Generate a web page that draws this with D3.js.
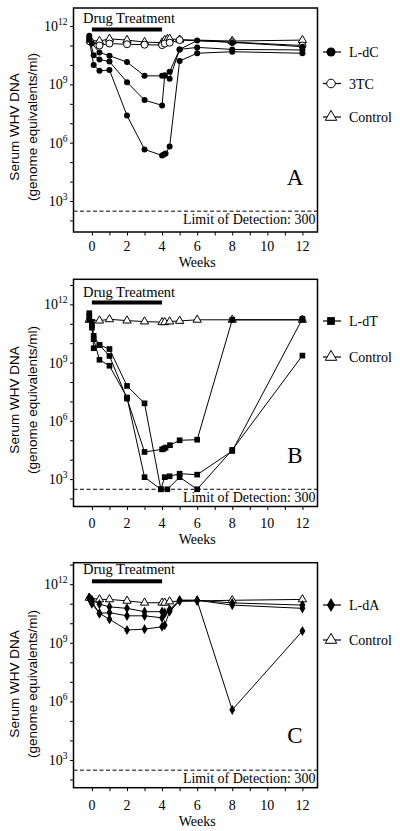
<!DOCTYPE html>
<html><head><meta charset="utf-8">
<script src="https://cdn.jsdelivr.net/npm/d3@7"></script>
<style>body{margin:0;background:#fff}svg{display:block}</style>
</head><body>
<script>
// ---------------- DATA ----------------
const weekTicks = [0,1,2,3,4,5,6,7,8,9,10,11,12];
const decadeTicks = [2,3,4,5,6,7,8,9,10,11,12,13];
const labelledDecades = [3,6,9,12];
const limitOfDetection = 300;
const limitText = "Limit of Detection: 300";
const treatmentWeeks = [0, 4];
const treatmentText = "Drug Treatment";
const xTitle = "Weeks";
const yTitle1 = "Serum WHV DNA";
const yTitle2 = "(genome equivalents/ml)";
const panelLetters = ["A","B","C"];

// Panel A: L-dC (filled circles), 3TC (open circles), Control (open triangles)
const ldc1 = [[-0.15,3.2e11],[0,1.26e11],[0.43,4.4e10],[1,3e10],[2,1.4e10],[3,2.75e9],[4,2.75e9],[4.15,2.9e9],[4.43,4.5e9],[5,6.3e10],[6,1.8e11],[8,1.45e11],[12,8.7e10]];
const ldc2 = [[-0.15,2.5e11],[0.1,3.2e10],[0.43,1.9e10],[1,1.5e10],[2,1.3e9],[3,1.55e8],[4,8.3e7],[4.15,2.9e9],[4.43,1.95e9],[5,6.3e10],[6,8e10],[8,6.3e10],[12,5.9e10]];
const ldc3 = [[-0.15,2e11],[0.1,1e10],[0.43,5e9],[1,5.5e9],[2,2.5e7],[3,4.5e5],[4,2.2e5],[4.1,2.5e5],[4.2,2.8e5],[4.43,6.3e5],[5,1.6e10],[6,4e10],[8,4.8e10],[12,4e10]];
const tc3 = [[-0.1,1.6e11],[0.43,1e11],[1,1.26e11],[2,1.16e11],[3,1.1e11],[4,1.05e11],[4.15,1.26e11],[4.43,1.4e11],[5,1.9e11],[8,1.5e11],[12,1e11]];
const controlA = [[-0.1,1.8e11],[0.43,1.7e11],[1,2.2e11],[2,1.9e11],[3,1.5e11],[4,1.4e11],[4.15,1.9e11],[4.3,2.1e11],[4.43,2.2e11],[5,2e11],[8,1.7e11],[12,1.9e11]];

// Panel B: L-dT (filled squares), Control
const ldt1 = [[-0.15,3.5e11],[0,1.26e11],[0.1,2.4e10],[0.43,8e9],[1,2.2e9],[2,1.4e7],[3,2.5e4],[4,3.4e4],[4.1,3.7e4],[4.2,4.2e4],[4.45,5.6e4],[5,1e5],[6,1.07e5],[8,1.6e11],[12,1.6e11]];
const ldt2 = [[-0.15,2.5e11],[0,8e10],[0.1,5.5e9],[0.43,8e9],[1,5e9],[2,6.3e7],[3,8e6],[3.93,300],[4.3,300],[5,1.26e3],[6,300],[8,3.2e4],[12,2.3e9]];
const ldt3 = [[-0.15,1.6e11],[0,6.3e10],[0.1,1.6e10],[0.43,1.4e9],[1,6.9e8],[2,1.6e7],[3,1.26e3],[3.93,300],[4.15,1.26e3],[4.43,1.4e3],[5,1.9e3],[6,1.7e3],[8,2.8e4],[12,1.8e11]];
const controlB = [[-0.15,1.6e11],[0.43,1.45e11],[1,1.7e11],[2,1.45e11],[3,1.3e11],[4,1.2e11],[4.15,1.2e11],[4.43,1.3e11],[5,1.4e11],[6,1.6e11],[8,1.6e11],[12,1.6e11]];

// Panel C: L-dA (filled diamonds), Control
const lda1 = [[-0.15,2e11],[0,1.6e11],[0.43,9.5e10],[1,6.9e10],[2,5.8e10],[3,3.9e10],[4,3.9e10],[4.15,3.5e10],[4.43,5e10],[5,1.5e11],[6,1.5e11],[8,1.1e11],[12,8.5e10]];
const lda2 = [[-0.15,2e11],[0,1.26e11],[0.43,3.2e10],[1,3.5e10],[2,2.4e10],[3,2.4e10],[4,1.9e10],[4.15,3.2e10],[4.43,4.7e10],[5,1.5e11],[6,1.5e11],[8,8.5e10],[12,5.8e10]];
const lda3 = [[-0.15,1.8e11],[0,1e11],[0.43,3.2e10],[1,1.6e10],[2,4.5e9],[3,5e9],[4,6.6e9],[4.15,8e9],[4.43,4e10],[5,1.4e11],[6,1.4e11],[8,3.7e5],[12,4e9]];
const controlC = [[-0.15,2e11],[0.43,1.66e11],[1,1.66e11],[2,1.4e11],[3,1.12e11],[4,1.12e11],[4.15,1.12e11],[4.43,1.3e11],[8,1.5e11],[12,1.66e11]];

const legendA = ["L-dC","3TC","Control"];
const legendB = ["L-dT","Control"];
const legendC = ["L-dA","Control"];

// ---------------- LAYOUT ----------------
const W = 400, H = 831;
const SERIF = "'Liberation Serif','Times New Roman',serif";
const SANS = "'Liberation Sans',Arial,sans-serif";
const xLeft = 73.5, xRight = 317.5;
const xDomain = [-1.05, 12.86];

const panels = [
  {top:8, bottom:232, expLo:1.405, expHi:12.93, letter:0,
   series:[{data:controlA,sym:"tri"},{data:tc3,sym:"ocirc"},{data:ldc1,sym:"fcirc"},{data:ldc2,sym:"fcirc"},{data:ldc3,sym:"fcirc"}],
   legend:[{t:legendA[0],sym:"fcirc",y:52},{t:legendA[1],sym:"ocirc",y:83.5},{t:legendA[2],sym:"tri",y:117}],
   txtY:23, barY:27.5, letterY:185, limY:224, tickLabY:251, titleY:267, yTitleC:127},
  {top:279.3, bottom:506.5, expLo:1.59, expHi:13.29, letter:1,
   series:[{data:controlB,sym:"tri"},{data:ldt1,sym:"sq"},{data:ldt2,sym:"sq"},{data:ldt3,sym:"sq"}],
   legend:[{t:legendB[0],sym:"sq",y:321},{t:legendB[1],sym:"tri",y:357}],
   txtY:296.5, barY:300.5, letterY:463, limY:501.5, tickLabY:527.5, titleY:543.5, yTitleC:400},
  {top:562.7, bottom:787.7, expLo:1.58, expHi:13.1, letter:2,
   series:[{data:controlC,sym:"tri"},{data:lda1,sym:"dia"},{data:lda2,sym:"dia"},{data:lda3,sym:"dia"}],
   legend:[{t:legendC[0],sym:"dia",y:605},{t:legendC[1],sym:"tri",y:640}],
   txtY:574, barY:579.3, letterY:743, limY:782.5, tickLabY:810, titleY:826, yTitleC:684}
];

const svg = d3.select("body").append("svg").attr("width",W).attr("height",H);
const x = d3.scaleLinear().domain(xDomain).range([xLeft, xRight]);

function drawMarker(g, sym, cx, cy, big){
  const k = big ? 1.9 : 1;
  if(sym==="fcirc"){
    g.append("circle").attr("cx",cx).attr("cy",cy).attr("r",big?4.5:3).attr("fill","#000");
  } else if(sym==="ocirc"){
    g.append("circle").attr("cx",cx).attr("cy",cy).attr("r",big?4.3:3.5).attr("fill","#fff").attr("stroke","#000").attr("stroke-width",1);
  } else {
    const type = sym==="tri"?d3.symbolTriangle:(sym==="sq"?d3.symbolSquare:d3.symbolDiamond);
    const size = sym==="tri"?30:(sym==="sq"?32:30);
    const p = g.append("path").attr("d", d3.symbol().type(type).size(size*k)())
      .attr("transform",`translate(${cx},${cy})`);
    if(sym==="tri") p.attr("fill","#fff").attr("stroke","#000").attr("stroke-width",1);
    else p.attr("fill","#000");
  }
}

panels.forEach(P=>{
  const y = d3.scaleLog().domain([Math.pow(10,P.expLo), Math.pow(10,P.expHi)]).range([P.bottom, P.top]);
  const g = svg.append("g");

  const yAx = d3.axisLeft(y).tickValues(decadeTicks.map(e=>Math.pow(10,e)).filter(v=>v>=y.domain()[0]&&v<=y.domain()[1]))
    .tickSize(3.5).tickFormat("");
  const ya = g.append("g").attr("transform",`translate(${xLeft},0)`).call(yAx);
  ya.select(".domain").remove();
  ya.selectAll("line").attr("stroke","#000").attr("stroke-width",1);

  const xAx = d3.axisBottom(x).tickValues(weekTicks).tickSize(3.5).tickFormat("");
  const xa = g.append("g").attr("transform",`translate(0,${P.bottom})`).call(xAx);
  xa.select(".domain").remove();
  xa.selectAll("line").attr("stroke","#000").attr("stroke-width",1);

  weekTicks.filter(d=>d%2===0).forEach(d=>{
    g.append("text").attr("x",x(d)).attr("y",P.tickLabY).attr("text-anchor","middle")
      .attr("font-family",SERIF).attr("font-size",14).text(d);
  });
  labelledDecades.forEach(e=>{
    const t = g.append("text").attr("x",xLeft-6).attr("y",y(Math.pow(10,e))+5).attr("text-anchor","end")
      .attr("font-family",SERIF).attr("font-size",14);
    t.append("tspan").text("10");
    t.append("tspan").attr("dy",-6).attr("font-size",9.5).text(e);
  });

  g.append("text").attr("x",(x(0)+x(12))/2).attr("y",P.titleY).attr("text-anchor","middle")
    .attr("font-family",SERIF).attr("font-size",14).text(xTitle);
  g.append("text").attr("transform",`translate(19,${P.yTitleC}) rotate(-90)`).attr("text-anchor","middle")
    .attr("font-family",SANS).attr("font-size",13.5).text(yTitle1);
  g.append("text").attr("transform",`translate(37,${P.yTitleC}) rotate(-90)`).attr("text-anchor","middle")
    .attr("font-family",SANS).attr("font-size",13.5).text(yTitle2);

  g.append("line").attr("x1",xLeft).attr("x2",xRight).attr("y1",y(limitOfDetection)).attr("y2",y(limitOfDetection))
    .attr("stroke","#000").attr("stroke-width",1).attr("stroke-dasharray","4,2.5");
  g.append("text").attr("x",xRight-2).attr("y",P.limY).attr("text-anchor","end")
    .attr("font-family",SERIF).attr("font-size",14).text(limitText);

  g.append("text").attr("x",x(0)-9).attr("y",P.txtY).attr("font-family",SERIF).attr("font-size",14.5).text(treatmentText);
  g.append("rect").attr("x",x(treatmentWeeks[0])).attr("width",x(treatmentWeeks[1])-x(treatmentWeeks[0]))
    .attr("y",P.barY).attr("height",4).attr("fill","#000");

  g.append("text").attr("x",295).attr("y",P.letterY).attr("text-anchor","middle")
    .attr("font-family",SERIF).attr("font-size",23).text(panelLetters[P.letter]);

  const line = d3.line().x(d=>x(d[0])).y(d=>y(d[1]));
  P.series.forEach(s=>{
    g.append("path").attr("d",line(s.data)).attr("fill","none").attr("stroke","#000").attr("stroke-width",1);
  });
  P.series.forEach(s=>{
    s.data.forEach(d=>drawMarker(g, s.sym, x(d[0]), y(d[1]), false));
  });

  g.append("rect").attr("x",xLeft).attr("y",P.top).attr("width",xRight-xLeft).attr("height",P.bottom-P.top)
    .attr("fill","none").attr("stroke","#000").attr("stroke-width",1.5);

  P.legend.forEach(L=>{
    g.append("line").attr("x1",323).attr("x2",341).attr("y1",L.y).attr("y2",L.y).attr("stroke","#000").attr("stroke-width",1.2);
    drawMarker(g, L.sym, 331, L.y, true);
    g.append("text").attr("x",349).attr("y",L.y+5).attr("font-family",SERIF).attr("font-size",14).text(L.t);
  });
});
</script>
</body></html>
